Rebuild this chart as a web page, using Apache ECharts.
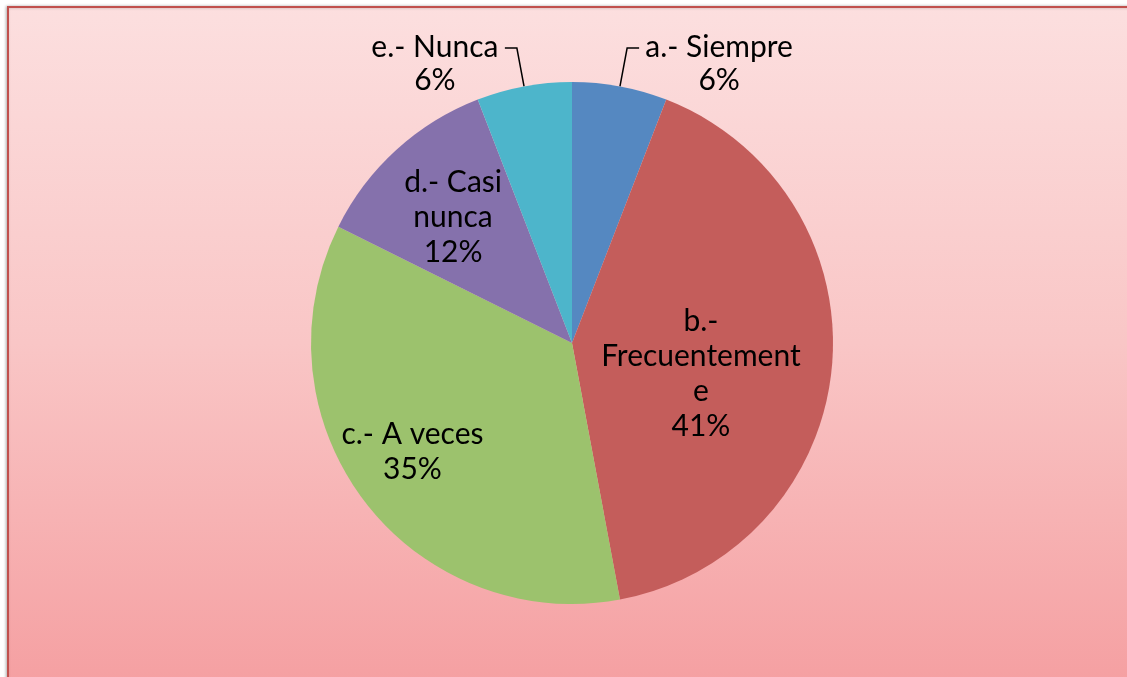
<!DOCTYPE html>
<html>
<head>
<meta charset="utf-8">
<script src="https://cdn.jsdelivr.net/npm/echarts@6/dist/echarts.min.js"></script>
<style>
  html, body { margin: 0; padding: 0; background: #fff; }
  #chart { width: 1127px; height: 677px; }
</style>
</head>
<body>
<div id="chart"></div>
<script>
// respuestas (conteo) por categoría
const categories = ['a.- Siempre', 'b.- Frecuentemente', 'c.- A veces', 'd.- Casi nunca', 'e.- Nunca']
const counts = [1, 7, 6, 2, 1]
// texto de etiqueta tal como aparece (con cortes de línea)
const labelNames = ['a.- Siempre', 'b.-\nFrecuentement\ne', 'c.- A veces', 'd.- Casi\nnunca', 'e.- Nunca']
const colors = ['#5588c1', '#c45d5b', '#9cc26d', '#8571ac', '#4db5cb']

const FONT = 'Lato, "Open Sans", sans-serif'
const LH = 35
// etiquetas exteriores (a y e) y su ancho de bloque
const outsideIdx = { 0: 150, 4: 130 }
// desplazamiento de las etiquetas interiores
const labelNudge = { 1: [-4, 19], 2: [-53, 28], 3: [-29, -27] }

const chart = echarts.init(document.getElementById('chart'))

const data = categories.map((name, i) => {
  const item = { name, value: counts[i], itemStyle: { color: colors[i] } }
  if (outsideIdx[i] !== undefined) {
    item.label = {
      position: 'outside',
      padding: [LH - 4, 0, 0, 0],
      rich: { t: { width: outsideIdx[i], align: 'center', fontSize: 30, lineHeight: LH - 2, fontFamily: FONT, color: '#000' } }
    }
    item.labelLine = { show: true, length: 39, length2: 12, lineStyle: { color: '#000', width: 1.5 } }
  } else {
    item.label = { position: 'inside' }
    item.labelLine = { show: false }
  }
  return item
})

chart.setOption({
  backgroundColor: '#fff',
  animation: false,
  graphic: [{
    type: 'rect',
    z: -10,
    shape: { x: 8, y: 7, width: 1300, height: 800 },
    style: {
      fill: new echarts.graphic.LinearGradient(0, 0, 0, 1, [
        { offset: 0, color: '#fcdfdf' },
        { offset: 0.42, color: '#f9c6c6' },
        { offset: 0.84, color: '#f5a0a2' },
        { offset: 1, color: '#f39294' }
      ]),
      stroke: '#c0504d',
      lineWidth: 2,
      shadowColor: 'rgba(0,0,0,0.25)',
      shadowBlur: 3,
      shadowOffsetX: -1
    }
  }],
  series: [{
    type: 'pie',
    center: [572, 343],
    radius: 261,
    startAngle: 90,
    clockwise: true,
    avoidLabelOverlap: false,
    itemStyle: { borderWidth: 0 },
    label: {
      show: true,
      fontSize: 30,
      lineHeight: LH,
      fontFamily: FONT,
      color: '#000',
      formatter: (p) => {
        const txt = labelNames[p.dataIndex] + '\n' + Math.round(p.percent) + '%'
        if (outsideIdx[p.dataIndex] !== undefined) {
          return txt.split('\n').map(s => '{t|' + s + '}').join('\n')
        }
        return txt
      }
    },
    labelLayout: (params) => {
      const n = labelNudge[params.dataIndex]
      return n ? { dx: n[0], dy: n[1] } : {}
    },
    emphasis: { disabled: true },
    data
  }]
})
</script>
</body>
</html>
